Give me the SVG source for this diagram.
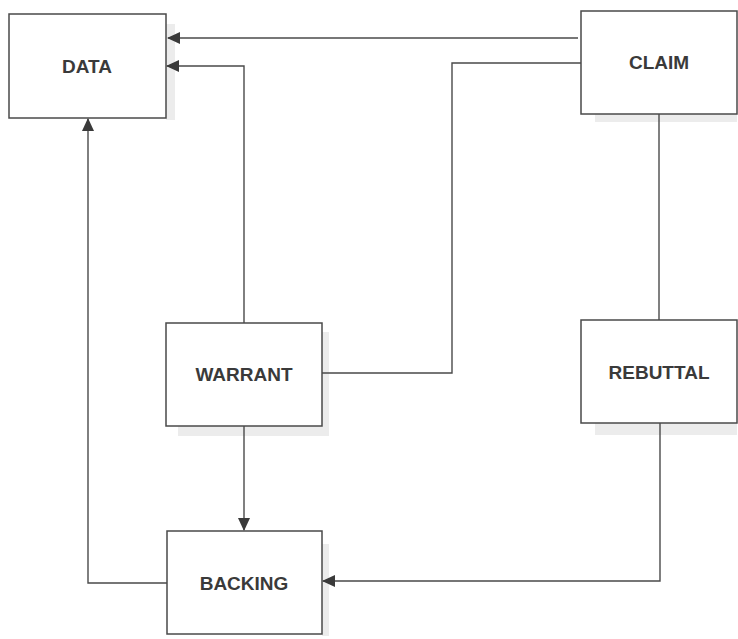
<svg xmlns="http://www.w3.org/2000/svg" width="738" height="639" viewBox="0 0 738 639">
<style>
.box{fill:#fff;stroke:#4a4a4a;stroke-width:1.5}
.shadow{fill:#ececec}
.lbl{font-family:"Liberation Sans",Arial,sans-serif;font-weight:bold;font-size:19px;fill:#3a3a3a;text-anchor:middle;dominant-baseline:central}
.ln{fill:none;stroke:#4a4a4a;stroke-width:1.4}
</style>
<defs>
<marker id="ah" markerWidth="13" markerHeight="12" refX="12" refY="6" orient="auto" markerUnits="userSpaceOnUse">
<path d="M0,0 L13,6 L0,12 Z" fill="#3a3a3a"/>
</marker>
</defs>
<rect width="738" height="639" fill="#fff"/>
<g id="data">
<rect class="shadow" x="166" y="24" width="9" height="96"/>
<rect class="box" x="9" y="14" width="157" height="104"/>
<text class="lbl" x="87" y="66">DATA</text>
</g>
<g id="claim">
<rect class="shadow" x="595" y="114" width="142" height="8"/>
<rect class="box" x="581" y="11" width="156" height="103"/>
<text class="lbl" x="659" y="62">CLAIM</text>
</g>
<g id="warrant">
<rect class="shadow" x="322" y="332" width="7" height="96"/>
<rect class="shadow" x="178" y="426" width="151" height="10"/>
<rect class="box" x="166" y="323" width="156" height="103"/>
<text class="lbl" x="244" y="374">WARRANT</text>
</g>
<g id="rebuttal">
<rect class="shadow" x="595" y="423" width="142" height="12"/>
<rect class="box" x="581" y="320" width="156" height="103"/>
<text class="lbl" x="659" y="372">REBUTTAL</text>
</g>
<g id="backing">
<rect class="shadow" x="322" y="544" width="7" height="92"/>
<rect class="box" x="167" y="531" width="155" height="103"/>
<text class="lbl" x="244" y="583">BACKING</text>
</g>
<g id="connectors">
<path class="ln" d="M578,38 H168" marker-end="url(#ah)"/>
<path class="ln" d="M581,63 H452 V373 H322"/>
<path class="ln" d="M244,323 V66 H167" marker-end="url(#ah)"/>
<path class="ln" d="M167,583 H88 V119" marker-end="url(#ah)"/>
<path class="ln" d="M244,426 V530" marker-end="url(#ah)"/>
<path class="ln" d="M659,114 V320"/>
<path class="ln" d="M660,423 V581 H323" marker-end="url(#ah)"/>
</g>
</svg>
